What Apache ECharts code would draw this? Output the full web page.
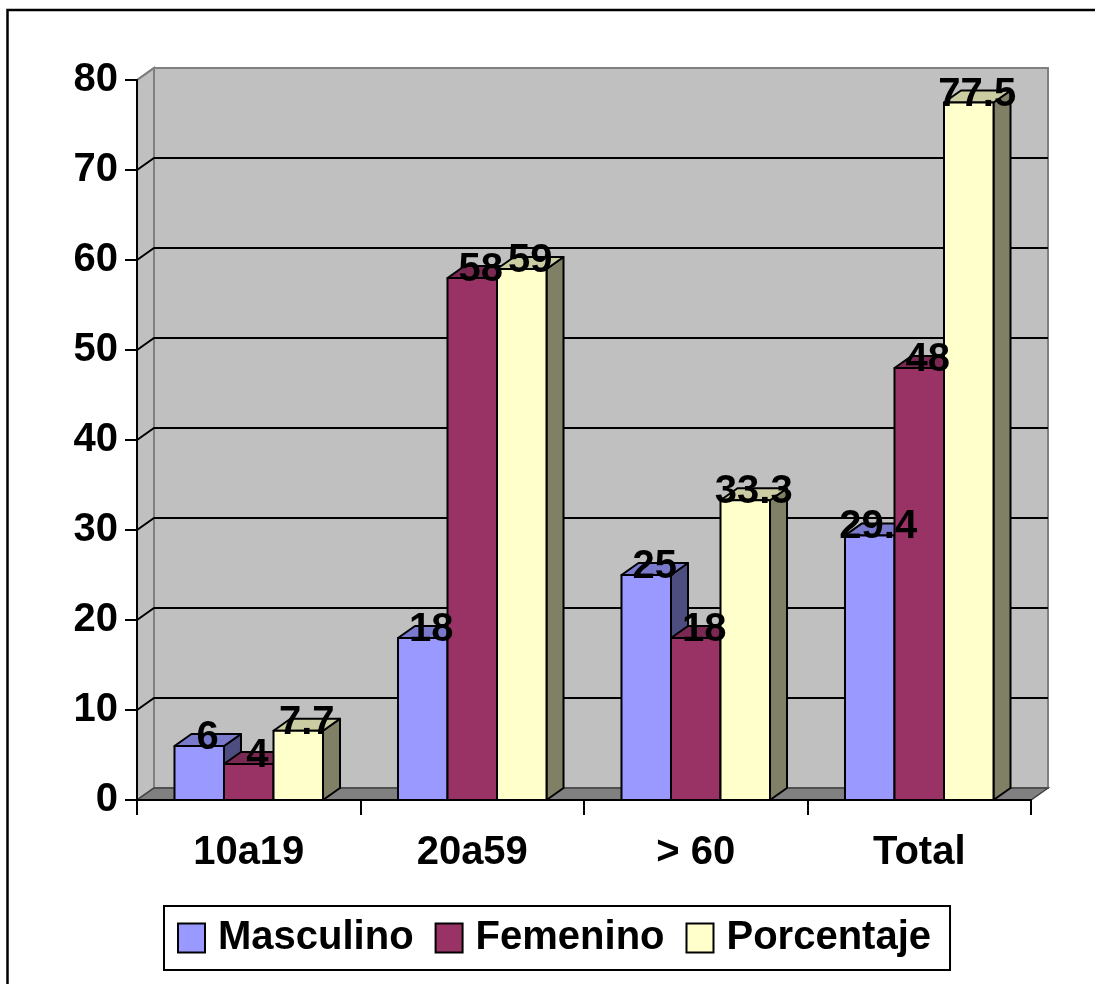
<!DOCTYPE html>
<html>
<head>
<meta charset="utf-8">
<script src="https://cdn.jsdelivr.net/npm/echarts@6/dist/echarts.min.js"></script>
<style>
  html, body { margin: 0; padding: 0; background: #fff; }
  #chart { width: 1095px; height: 984px; }
</style>
</head>
<body>
<div id="chart"></div>
<script>
// Age groups and values per series
const categories = ['10a19', '20a59', '> 60', 'Total'];
const seriesNames = ['Masculino', 'Femenino', 'Porcentaje'];
const masculino = [6, 18, 25, 29.4];
const femenino = [4, 58, 18, 48];
const porcentaje = [7.7, 59, 33.3, 77.5];
const yTicks = [0, 10, 20, 30, 40, 50, 60, 70, 80];

// Face colours for the 3D columns: front, top, side
const faceColors = [
  { front: '#9999FF', top: '#7A7ACC', side: '#4D4D80' },
  { front: '#993366', top: '#7A2952', side: '#4D1A33' },
  { front: '#FFFFCC', top: '#CCCCA3', side: '#808066' }
];

const FONT = '"Liberation Sans", Arial, sans-serif';
const DX = 17, DY = -12;          // depth offset of the 3D box
const BAR_RATIO = 0.2215;         // column width as a share of the category band

const allValues = [masculino, femenino, porcentaje];

// Back wall, side wall, floor and gridlines
function renderWalls(params, api) {
  const cs = params.coordSys;
  const x0 = cs.x, x1 = cs.x + cs.width;
  const v = api.value(0);
  const y = api.coord([0, v])[1];
  const yTop = api.coord([0, yTicks[yTicks.length - 1]])[1];
  const yBot = api.coord([0, 0])[1];
  const children = [];
  if (params.dataIndex === 0) {
    children.push({
      type: 'rect',
      shape: { x: x0 + DX, y: yTop + DY, width: x1 - x0, height: yBot - yTop },
      style: { fill: '#C0C0C0', stroke: '#808080', lineWidth: 2 }
    });
    children.push({
      type: 'polygon',
      shape: { points: [[x0, yTop], [x0 + DX, yTop + DY], [x0 + DX, yBot + DY], [x0, yBot]] },
      style: { fill: '#C0C0C0', stroke: '#808080', lineWidth: 2 }
    });
  }
  if (v > 0) {
    const isTop = v === yTicks[yTicks.length - 1];
    children.push({
      type: 'polyline',
      shape: { points: [[x0, y], [x0 + DX, y + DY], [x1 + DX, y + DY]] },
      style: { fill: null, stroke: isTop ? '#808080' : '#000', lineWidth: 2 }
    });
  }
  if (params.dataIndex === yTicks.length - 1) {
    children.push({
      type: 'polygon',
      shape: { points: [[x0, yBot], [x1, yBot], [x1 + DX, yBot + DY], [x0 + DX, yBot + DY]] },
      style: { fill: '#808080', stroke: '#404040', lineWidth: 1.5 }
    });
  }
  return { type: 'group', children: children };
}

// One 3D column per data item
function makeBarRenderer(sIdx) {
  return function (params, api) {
    const cat = api.value(0);
    const val = api.value(1);
    const top = api.coord([cat, val]);
    const base = api.coord([cat, 0]);
    const band = api.size([1, 0])[0];
    const bw = band * BAR_RATIO;
    const xl = top[0] + (sIdx - 1) * bw - bw / 2;
    const xr = xl + bw;
    const yt = top[1], yb = base[1];
    const c = faceColors[sIdx];
    const edge = { stroke: '#000', lineWidth: 2, lineJoin: 'round' };
    return {
      type: 'group',
      children: [
        { type: 'polygon',
          shape: { points: [[xr, yt], [xr + DX, yt + DY], [xr + DX, yb + DY], [xr, yb]] },
          style: Object.assign({ fill: c.side }, edge) },
        { type: 'polygon',
          shape: { points: [[xl, yt], [xr, yt], [xr + DX, yt + DY], [xl + DX, yt + DY]] },
          style: Object.assign({ fill: c.top }, edge) },
        { type: 'rect',
          shape: { x: xl, y: yt, width: bw, height: yb - yt },
          style: Object.assign({ fill: c.front }, edge) }
      ]
    };
  };
}

// Value labels, above every column
function renderLabels(params, api) {
  const cat = api.value(0);
  const val = api.value(1);
  const sIdx = api.value(2);
  const top = api.coord([cat, val]);
  const band = api.size([1, 0])[0];
  const bw = band * BAR_RATIO;
  const xc = top[0] + (sIdx - 1) * bw + DX / 2;
  const yc = top[1] + DY / 2 - 2;
  return {
    type: 'text',
    x: xc, y: yc,
    style: {
      text: String(allValues[sIdx][cat]),
      fill: '#000',
      font: 'bold 40px ' + FONT,
      align: 'center',
      verticalAlign: 'middle'
    }
  };
}

const labelData = [];
allValues.forEach(function (arr, s) {
  arr.forEach(function (v, i) { labelData.push([i, v, s]); });
});

const chart = echarts.init(document.getElementById('chart'), null, { renderer: 'canvas' });

const option = {
  backgroundColor: '#fff',
  animation: false,
  textStyle: { fontFamily: FONT },
  graphic: [{
    type: 'rect',
    shape: { x: 7.5, y: 10, width: 1110, height: 1010 },
    style: { fill: null, stroke: '#000', lineWidth: 2.5 },
    z: 100
  }],
  grid: { left: 137, right: 64, top: 80, bottom: 184 },
  legend: {
    left: 164, top: 906,
    orient: 'horizontal',
    backgroundColor: '#fff',
    borderColor: '#000',
    borderWidth: 2,
    borderRadius: 0,
    padding: [10, 19, 10, 13],
    itemGap: 21,
    itemWidth: 27,
    itemHeight: 29,
    icon: 'rect',
    selectedMode: false,
    textStyle: {
      fontFamily: FONT, fontSize: 40, fontWeight: 'bold', color: '#000',
      lineHeight: 44, padding: [0, 0, 0, 8]
    },
    data: seriesNames.map(function (n, i) {
      return { name: n, itemStyle: { color: faceColors[i].front, borderColor: '#000', borderWidth: 2 } };
    })
  },
  xAxis: {
    type: 'category',
    data: categories,
    boundaryGap: true,
    z: 5,
    axisLine: { show: true, lineStyle: { color: '#000', width: 2 } },
    axisTick: { show: true, length: 15, lineStyle: { color: '#000', width: 2 } },
    axisLabel: { fontFamily: FONT, fontSize: 40, fontWeight: 'bold', color: '#000', margin: 33 },
    splitLine: { show: false }
  },
  yAxis: {
    type: 'value',
    min: 0, max: 80, interval: 10,
    z: 5,
    axisLine: { show: true, lineStyle: { color: '#000', width: 2 } },
    axisTick: { show: true, length: 12, lineStyle: { color: '#000', width: 2 } },
    axisLabel: { fontFamily: FONT, fontSize: 40, fontWeight: 'bold', color: '#000', margin: 19, padding: [5, 0, 0, 0] },
    splitLine: { show: false }
  },
  series: [
    {
      type: 'custom', name: 'walls', silent: true, z: 1,
      data: yTicks.map(function (t) { return [t]; }),
      encode: { y: 0 },
      renderItem: renderWalls
    },
    {
      type: 'custom', name: seriesNames[0], z: 2,
      itemStyle: { color: faceColors[0].front },
      data: masculino.map(function (v, i) { return [i, v]; }),
      encode: { x: 0, y: 1 },
      renderItem: makeBarRenderer(0)
    },
    {
      type: 'custom', name: seriesNames[1], z: 2,
      itemStyle: { color: faceColors[1].front },
      data: femenino.map(function (v, i) { return [i, v]; }),
      encode: { x: 0, y: 1 },
      renderItem: makeBarRenderer(1)
    },
    {
      type: 'custom', name: seriesNames[2], z: 2,
      itemStyle: { color: faceColors[2].front },
      data: porcentaje.map(function (v, i) { return [i, v]; }),
      encode: { x: 0, y: 1 },
      renderItem: makeBarRenderer(2)
    },
    {
      type: 'custom', name: 'labels', silent: true, z: 6,
      data: labelData,
      encode: { x: 0, y: 1 },
      renderItem: renderLabels
    }
  ]
};

chart.setOption(option);
</script>
</body>
</html>
